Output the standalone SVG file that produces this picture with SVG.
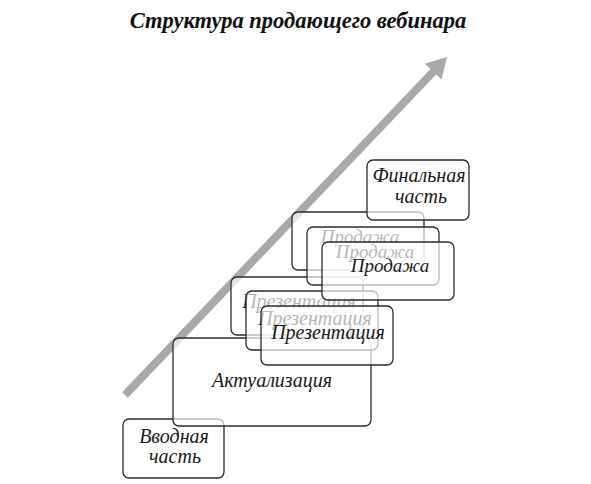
<svg xmlns="http://www.w3.org/2000/svg" width="591" height="484" viewBox="0 0 591 484">
<style>
.box{fill:#fff;fill-opacity:0.68;stroke:#2b2b2b;stroke-width:1.3}
.t{font-family:"Liberation Serif",serif;font-style:italic;font-size:20px;fill:#1a1a1a;text-anchor:middle}
.s{font-size:19px}
.title{font-family:"Liberation Serif",serif;font-style:italic;font-weight:bold;font-size:22.5px;fill:#111;text-anchor:middle}
</style>
<rect width="591" height="484" fill="#fff"/>
<text class="title" x="298" y="28">Структура продающего вебинара</text>
<g id="connectors">
<line x1="125" y1="395" x2="434" y2="71" stroke="#a9a9a9" stroke-width="8"/>
<polygon points="447,57 441.5,79.5 424.8,63.7" fill="#a9a9a9"/>
</g>
<g id="intro">
<rect class="box" x="123" y="419" width="101" height="59" rx="6"/>
<text class="t" x="174" y="443">Вводная</text>
<text class="t" x="175" y="463">часть</text>
</g>
<g id="actual">
<rect class="box" x="173" y="338" width="198" height="88" rx="6"/>
<text class="t" x="272" y="387">Актуализация</text>
</g>
<g id="present1">
<rect class="box" x="231" y="277" width="132" height="58" rx="6"/>
<text class="t" x="299" y="308">Презентация</text>
</g>
<g id="present2">
<rect class="box" x="246" y="291" width="132" height="59" rx="6"/>
<text class="t" x="315" y="325">Презентация</text>
</g>
<g id="present3">
<rect class="box" x="261" y="306" width="132" height="59" rx="6"/>
<text class="t" x="328" y="339">Презентация</text>
</g>
<g id="sale1">
<rect class="box" x="292" y="212" width="132" height="58" rx="6"/>
<text class="t s" x="360" y="243">Продажа</text>
</g>
<g id="final">
<rect class="box" x="367" y="160" width="102" height="60" rx="6"/>
<text class="t" x="419" y="182">Финальная</text>
<text class="t" x="421" y="203">часть</text>
</g>
<g id="sale2">
<rect class="box" x="307" y="227" width="132" height="58" rx="6"/>
<text class="t s" x="375" y="258">Продажа</text>
</g>
<g id="sale3">
<rect class="box" x="322" y="242" width="132" height="58" rx="6"/>
<text class="t s" x="390" y="272">Продажа</text>
</g>
</svg>
